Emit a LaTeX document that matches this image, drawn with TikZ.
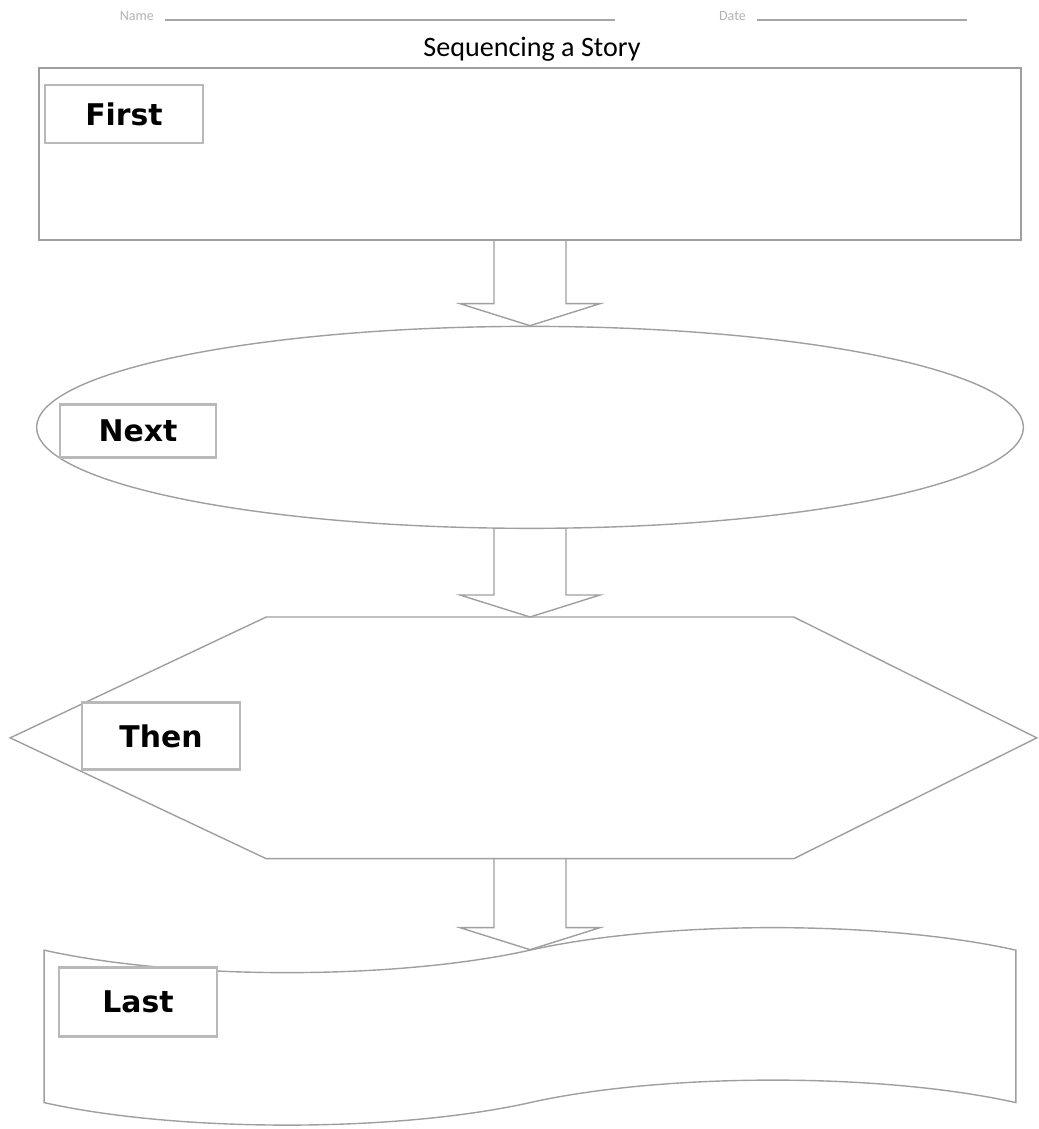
\documentclass[tikz,border=0pt]{standalone}
\usepackage{fontspec}
\setmainfont{Carlito}
\newfontfamily\tagfont{DejaVu Sans}
\usetikzlibrary{positioning}
\usetikzlibrary{calc}
\usetikzlibrary{shapes.geometric}
\usetikzlibrary{shapes.symbols}

\begin{document}
\begin{tikzpicture}[x=0.02cm, y=-0.02cm]

        \tikzstyle{shapeline} = [draw=gray!75, line width=0.8pt, inner sep=0pt]
        \tikzstyle{labelbox} = [draw=gray!55, line width=1.3pt, fill=white, inner sep=0pt,
            font=\tagfont\bfseries\fontsize{17}{20}\selectfont]
        \tikzstyle{blockarrow} = [draw=gray!75, line width=0.8pt, line join=miter]
        \tikzstyle{rule} = [draw=gray!70, line width=0.8pt]

        \useasboundingbox (0,0) rectangle (1038,1129);

        % header
        \node[font=\fontsize{8}{9}\selectfont, text=gray!60, anchor=base east] (nameLbl) at (160,20) {Name};
        \node[font=\fontsize{8}{9}\selectfont, text=gray!60, anchor=base east] (dateLbl) at (752,20) {Date};
        \draw[rule] ([xshift=3pt]nameLbl.base east) -- ++(450,0);
        \draw[rule] ([xshift=3pt]dateLbl.base east) -- ++(210,0);
        \node[font=\fontsize{16}{18}\selectfont] (title) at (532,49) {Sequencing a Story};

        % the four frames
        \node[shapeline, rectangle, minimum width=19.64cm, minimum height=3.44cm] (first) at (530,154) {};
        \node[shapeline, ellipse, minimum width=19.74cm, minimum height=4.04cm, below=1.7cm of first] (next) {};
        \node[inner sep=0pt, minimum width=10.54cm, minimum height=4.82cm, below=1.76cm of next] (then) {};
        \draw[shapeline] (then.north west) -- (then.north east) -- ($(then.east)+(243,0)$)
            -- (then.south east) -- (then.south west) -- ($(then.west)+(-256,0)$) -- cycle;
        \node[shapeline, tape, minimum width=19.44cm, minimum height=3.95cm, tape bend height=0.9cm,
            below=1.82cm of then] (last) {};

        % labels
        \node[labelbox, minimum width=3.16cm, minimum height=1.16cm] (firstTag) at (124,114) {First};
        \node[labelbox, minimum width=3.12cm, minimum height=1.06cm] (nextTag)  at (138,431) {Next};
        \node[labelbox, minimum width=3.16cm, minimum height=1.34cm] (thenTag)  at (161,736) {Then};
        \node[labelbox, minimum width=3.16cm, minimum height=1.38cm] (lastTag)  at (138,1002) {Last};

        % block arrows
        \foreach \a/\b in {first/next, next/then, then/last} {
            \draw[blockarrow] ($(\a.south)+(-36,0)$) -- ($(\b.north)+(-36,-22)$) -- ($(\b.north)+(-70,-22)$)
                -- (\b.north) -- ($(\b.north)+(70,-22)$) -- ($(\b.north)+(36,-22)$) -- ($(\a.south)+(36,0)$);
        }

      \end{tikzpicture}
\end{document}
